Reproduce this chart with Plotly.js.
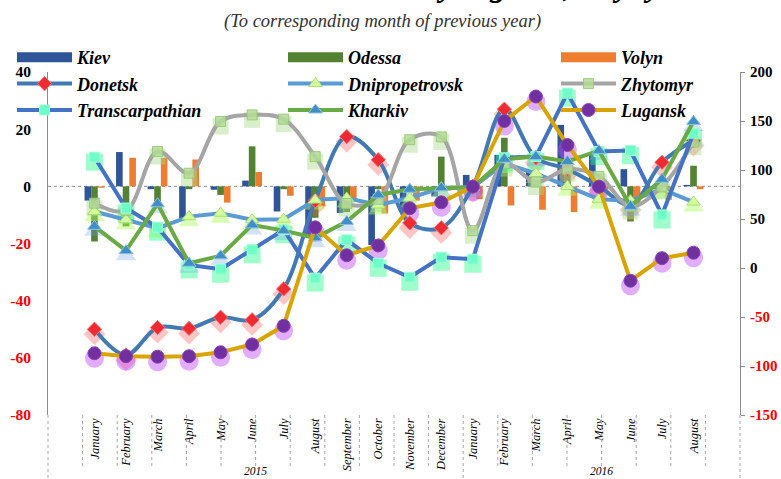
<!DOCTYPE html>
<html>
<head>
<meta charset="utf-8">
<script src="https://cdn.plot.ly/plotly-3.0.1.min.js"></script>
<style>
html,body{margin:0;padding:0;background:#fff;}
#chart{width:781px;height:479px;}
</style>
</head>
<body>
<div id="chart"></div>
<script>
// ---- data ----
const months = ['January','February','March','April','May','June','July','August','September','October','November','December',
                'January','February','March','April','May','June','July','August'];
const yearOfMonth = ['2015','2015','2015','2015','2015','2015','2015','2015','2015','2015','2015','2015',
                     '2016','2016','2016','2016','2016','2016','2016','2016'];
const years = ['2015','2016'];

// bars (left axis, %)
const kiev   = [-5, 12, -1, -11.5, -1.2, 2, -8.8, -17, -9.3, -20.5, -9, -3.5, 4, 11, 5, 21.5, 11, 6, -1, 0.5];
const odessa = [-19.3, -14, -6.5, -1, -3, 14, -1, -11, -9, -1, -1, 10.4, -1, 17, 1, 4, 1, -12.3, -0.5, 7.2];
const volyn  = [-0.5, 10, 10, 9.4, -5.7, 5, -3.3, -7, -4.1, -9.5, -5, -1.5, -4.5, -6.7, -8.2, -9, -1, -7, -4.7, -1];

// lines (left axis, %)
const donetsk         = [-50, -59, -49.4, -49.7, -45.8, -46.7, -35.9, -5, 17.4, 9.3, -12.8, -14.5, 0, 27, 10, 6, 0, -6.5, 8.4, 16];
const dnipropetrovsk  = [-8.8, -11.7, -14.6, -10.6, -9.4, -11.7, -11.5, -4.8, -4.1, -6.5, -4.1, -0.5, -0.3, 8, 4.5, 0, -4.5, -5, -1, -5.5];
const zhytomyr        = [-5.9, -8.5, 12.2, 4.6, 22.7, 25, 23.5, 10.4, -6, -4.5, 16.3, 17.3, -15.5, 8, 1.5, 6, 3.5, -7, 0, 15.5];
const transcarpathian = [10.2, -7.6, -14.3, -27.5, -29, -22.2, -15.2, -32.1, -18.7, -26.9, -31.8, -24.8, -25.5, 10, 10.4, 32.6, 12.2, 12.5, -10, 18.6];
const kharkiv         = [-14, -22.5, -6.1, -26.9, -24.3, -13.5, -15.5, -18, -12.3, -3, -1, -0.5, -0.3, 9.5, 10.4, 8.7, 12.5, -7, 2.5, 22.7];
// line (right axis, %)
const lugansk         = [-87, -90, -90.5, -90, -86, -78, -59, 41.5, 13, 23, 61, 67, 83, 150, 175, 125.5, 83, -13, 10, 15.6];

const leftTicks  = [-80, -60, -40, -20, 0, 20, 40];
const rightTicks = [-150, -100, -50, 0, 50, 100, 150, 200];

const titleText = 'Retail trade turnover by regions, % yoy';
const subtitleText = '(To corresponding month of previous year)';

// ---- build ----
const cats = months.map((m, i) => m + ' ' + yearOfMonth[i]);
const serif = 'Liberation Serif, Times New Roman, serif';
const tickLabel = v => v < 0 ? '<span style="color:#ff0000">' + v + '</span>' : String(v);

function bar(name, vals, color) {
  return {type: 'bar', name: name, x: cats, y: vals, yaxis: 'y', showlegend: false, marker: {color: color}};
}
// legend key for a bar series: wide swatch (series kept on an axis whose window shows nothing)
function barKey(name, vals, color, lg) {
  return {type: 'scatter', mode: 'lines', name: name, x: cats, y: vals, yaxis: 'y6', legend: lg,
          hoverinfo: 'skip', line: {color: color, width: 10}};
}
function line(name, vals, axis, lc, shape, sym, msize, mcolor, mline, lg) {
  return {type: 'scatter', mode: 'lines+markers', name: name, x: cats, y: vals, yaxis: axis, legend: lg,
          line: {color: lc, width: 4, shape: shape, smoothing: 1},
          marker: {symbol: sym, size: msize, color: mcolor, line: {color: mline, width: 1}}};
}
function glow(vals, axis, sym, size, color) {
  return {type: 'scatter', mode: 'markers', x: cats, y: vals, yaxis: axis, showlegend: false, hoverinfo: 'skip',
          marker: {symbol: sym, size: size, color: color, line: {width: 0}}};
}

const traces = [
  bar('Kiev', kiev, '#2f5597'),
  bar('Odessa', odessa, '#548235'),
  bar('Volyn', volyn, '#ed7d31'),
  // soft glows (hidden, slightly offset axes)
  glow(donetsk, 'y2', 'diamond', 17, 'rgba(255,90,90,0.35)'),
  glow(dnipropetrovsk, 'y2', 'triangle-up', 18, 'rgba(170,255,90,0.45)'),
  glow(zhytomyr, 'y2', 'square', 16, 'rgba(170,220,140,0.45)'),
  glow(transcarpathian, 'y2', 'square', 17, 'rgba(40,255,140,0.45)'),
  glow(kharkiv, 'y2', 'triangle-up', 18, 'rgba(110,160,230,0.30)'),
  glow(lugansk, 'y3', 'circle', 19, 'rgba(190,70,255,0.45)'),
  // legend keys for bars
  barKey('Kiev', kiev, '#2f5597', 'legend'),
  barKey('Odessa', odessa, '#548235', 'legend2'),
  barKey('Volyn', volyn, '#ed7d31', 'legend3'),
  // lines
  line('Donetsk', donetsk, 'y4', '#4279b3', 'spline', 'diamond', 11, '#ee2a33', '#ff7070', 'legend'),
  line('Dnipropetrovsk', dnipropetrovsk, 'y4', '#5b9bd5', 'linear', 'triangle-up', 12, '#d4ff9e', '#a8e070', 'legend2'),
  line('Zhytomyr', zhytomyr, 'y4', '#a5a5a5', 'spline', 'square', 10, 'rgba(180,220,150,0.85)', 'rgba(150,200,120,0.9)', 'legend3'),
  line('Transcarpathian', transcarpathian, 'y4', '#4472c4', 'linear', 'square', 10, '#6effc8', '#a0ffd8', 'legend'),
  line('Kharkiv', kharkiv, 'y4', '#6aaa45', 'linear', 'triangle-up', 12, '#3f8fc4', '#8cc0e8', 'legend2'),
  line('Lugansk', lugansk, 'y5', '#d9a400', 'linear', 'circle', 13, '#7030a0', '#8a40c0', 'legend3')
];

// geometry
const W = 781, H = 479, mL = 48, mR = 41, mT = 72, mB = 64;
const PW = W - mL - mR, PH = H - mT - mB;
const shiftL = 5 * 120 / PH, shiftR = 5 * 350 / PH;

const shapes = [];
shapes.push({type: 'line', xref: 'paper', yref: 'y', x0: 0, x1: 1, y0: 0, y1: 0,
             line: {color: '#8c8c8c', width: 1, dash: 'dot'}, layer: 'below'});
for (let i = 0; i <= cats.length; i++) {
  const isYear = (i === 0 || i === cats.length || yearOfMonth[i] !== yearOfMonth[i - 1]);
  shapes.push({type: 'line', xref: 'paper', yref: 'paper', x0: i / cats.length, x1: i / cats.length,
               y0: 0, y1: isYear ? -(H - mT - PH) / PH : -(52 / PH),
               line: {color: '#a6a6a6', width: 1, dash: 'dot'}});
}

const annotations = [];
years.forEach(y => {
  const idx = yearOfMonth.map((v, i) => v === y ? i : -1).filter(i => i >= 0);
  const center = (idx[0] + idx[idx.length - 1] + 1) / 2 / cats.length;
  annotations.push({xref: 'paper', yref: 'paper', x: center, y: -(471 - (mT + PH)) / PH,
                    xanchor: 'center', yanchor: 'middle', showarrow: false, text: y,
                    font: {family: serif, size: 11.5, style: 'italic', color: '#000'}});
});
annotations.push({xref: 'paper', yref: 'paper', x: (382 - mL) / PW, y: 1 + (mT - 21) / PH,
                  xanchor: 'center', yanchor: 'middle', showarrow: false, text: subtitleText,
                  font: {family: serif, size: 18.5, style: 'italic', color: '#333'}});
annotations.push({xref: 'paper', yref: 'paper', x: (664 - mL) / PW, y: 1 + (mT - 5) / PH,
                  xanchor: 'right', yanchor: 'bottom', showarrow: false, text: titleText,
                  font: {family: serif, size: 33, style: 'italic', weight: 'bold', color: '#000'}});

const tickFont = {family: serif, size: 15.5, weight: 'bold', color: '#000'};
const rightTickFont = {family: serif, size: 15, weight: 'bold', color: '#000'};
const hidden = {overlaying: 'y', visible: false, showgrid: false, zeroline: false, fixedrange: true};
const legendFont = {family: serif, size: 18, weight: 'bold', style: 'italic', color: '#000'};
function legendAt(px) {
  return {orientation: 'v', x: (px - mL) / PW, xanchor: 'left', y: 1 + (mT - 39) / PH, yanchor: 'top',
          bgcolor: 'rgba(0,0,0,0)', itemwidth: 55, traceorder: 'normal', tracegroupgap: 0, font: legendFont};
}

const layout = {
  width: W, height: H,
  margin: {l: mL, r: mR, t: mT, b: mB, pad: 0},
  paper_bgcolor: '#fff', plot_bgcolor: 'rgba(0,0,0,0)',
  barmode: 'group', bargap: 0.37, bargroupgap: 0,
  showlegend: true,
  legend: legendAt(12),
  legend2: legendAt(283),
  legend3: legendAt(556),
  xaxis: {type: 'category', categoryorder: 'array', categoryarray: cats, tickvals: cats, ticktext: months,
          tickangle: -90, showline: false, ticks: '', showgrid: false, zeroline: false,
          tickfont: {family: serif, size: 12.5, style: 'italic', color: '#000'}},
  yaxis: {range: [-80, 40], tickvals: leftTicks, ticktext: leftTicks.map(tickLabel), showgrid: false, zeroline: false,
          showline: true, linecolor: '#8c8c8c', linewidth: 1, ticks: '', ticklabelstandoff: 13, tickfont: tickFont},
  yaxis2: Object.assign({range: [-80 + shiftL, 40 + shiftL]}, hidden),
  yaxis3: Object.assign({range: [-150 + shiftR, 200 + shiftR]}, hidden),
  yaxis4: Object.assign({range: [-80, 40]}, hidden),
  yaxis5: {overlaying: 'y', side: 'right', range: [-150, 200], tickvals: rightTicks, ticktext: rightTicks.map(tickLabel),
           showgrid: false, zeroline: false, showline: true, linecolor: '#8c8c8c', linewidth: 1,
           ticks: 'outside', ticklen: 4, tickcolor: '#8c8c8c', ticklabelstandoff: 2, tickfont: rightTickFont},
  yaxis6: Object.assign({range: [1000, 1001]}, hidden),
  shapes: shapes,
  annotations: annotations
};

Plotly.newPlot('chart', traces, layout, {displayModeBar: false, staticPlot: true});
</script>
</body>
</html>
